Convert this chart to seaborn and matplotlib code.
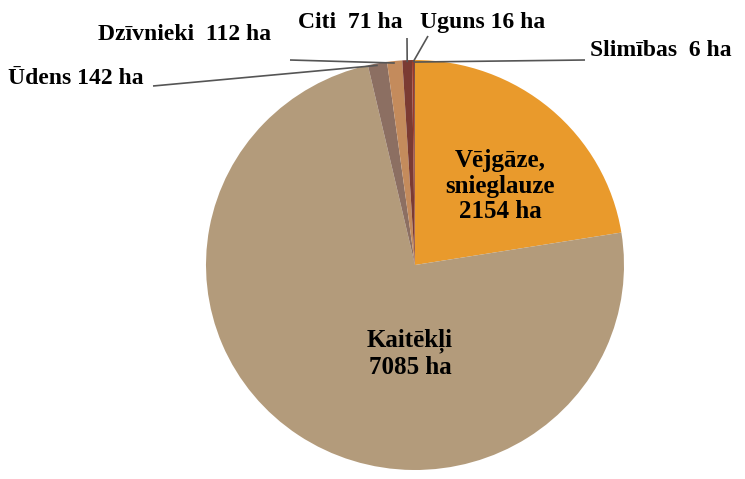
import numpy as np
import matplotlib
matplotlib.use("Agg")
import matplotlib.pyplot as plt
import seaborn as sns

# slice data, clockwise from the top
categories = ["Vējgāze,\nsnieglauze", "Kaitēkļi", "Ūdens", "Dzīvnieki", "Citi", "Uguns", "Slimības"]
areas_ha = [2154, 7085, 142, 112, 71, 16, 6]
slice_colors = ["#E99A2C", "#B39B7B", "#8C6F62", "#C48B5C", "#7B3B33", "#9E3A28", "#5A2A22"]

sns.set_theme(style="white")
plt.rcParams["font.family"] = ["Liberation Serif", "DejaVu Serif"]
plt.rcParams["font.weight"] = "bold"
plt.rcParams["text.color"] = "black"

W, H = 745, 479
CX, CY, RX, RY = 415, 265, 209, 205


def px(x, y):
    """pixel position (from top-left) -> data coords"""
    return (x - CX) / RX, (CY - y) / RY


fig = plt.figure(figsize=(W / 100, H / 100), dpi=100)
ax = fig.add_axes([0, 0, 1, 1])
palette = sns.color_palette(slice_colors)
wedges, _ = ax.pie(areas_ha, colors=palette, startangle=90, counterclock=False,
                   radius=1, wedgeprops=dict(linewidth=0))
ax.set_aspect("auto")
ax.set_xlim(-CX / RX, (W - CX) / RX)
ax.set_ylim((CY - H) / RY, CY / RY)
ax.axis("off")


def edge_point(w, r=1.0):
    a = np.deg2rad((w.theta1 + w.theta2) / 2)
    return r * np.cos(a), r * np.sin(a)


# labels inside the two big slices
x, y = px(500, 186)
ax.text(x, y, f"{categories[0]}\n{areas_ha[0]} ha", ha="center", va="center",
        fontsize=18, fontweight="bold", linespacing=1.15)
x, y = px(410, 354)
ax.text(x, y, f"{categories[1]}\n{areas_ha[1]} ha", ha="center", va="center",
        fontsize=18, fontweight="bold", linespacing=1.15)

# outside labels: (text pos, ha, line start)
outer = {
    2: ((8, 78), "left", (153, 86), f"{categories[2]} {areas_ha[2]} ha"),
    3: ((98, 35), "left", (290, 60), f"{categories[3]}  {areas_ha[3]} ha"),
    4: ((350, 22), "center", (407, 38), f"{categories[4]}  {areas_ha[4]} ha"),
    5: ((420, 22), "left", (428, 36), f"{categories[5]} {areas_ha[5]} ha"),
    6: ((590, 50), "left", (585, 60), f"{categories[6]}  {areas_ha[6]} ha"),
}
for i, (tpos, ha, lstart, label) in outer.items():
    tx, ty = px(*tpos)
    ax.text(tx, ty, label, ha=ha, va="center", fontsize=17, fontweight="bold")
    sx, sy = px(*lstart)
    ex, ey = edge_point(wedges[i], 0.99)
    ax.plot([sx, ex], [sy, ey], color="#555555", lw=1.2, solid_capstyle="butt")

fig.savefig("out.png", dpi=100)
